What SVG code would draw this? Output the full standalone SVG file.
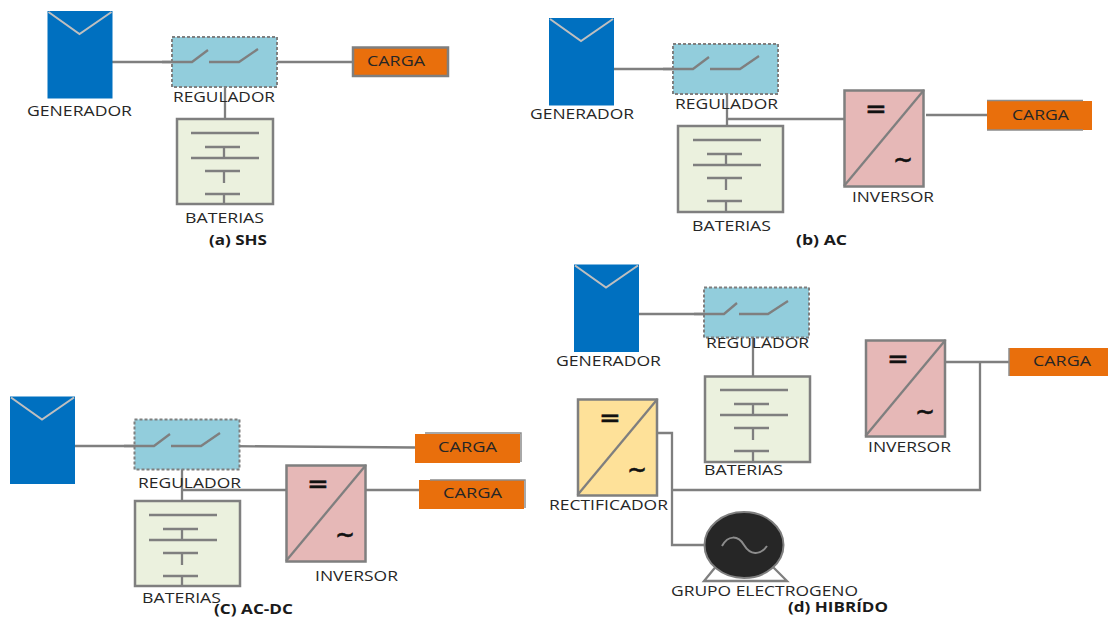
<svg xmlns="http://www.w3.org/2000/svg" width="1108" height="617" viewBox="0 0 1108 617">
<style>
text{font-family:"Open Sans","Liberation Sans",sans-serif;font-size:14px;fill:#262626}
.cap{font-weight:700;font-size:13.500px;fill:#1a1a1a}
.w{fill:none;stroke:#7f7f7f;stroke-width:2.300}
.box{stroke:#7f7f7f;stroke-width:2.500}
.pv{fill:#0070c0}
.chev{fill:none;stroke:#bfbfbf;stroke-width:2}
.reg{fill:#92cddc;stroke:#7f7f7f;stroke-width:2;stroke-dasharray:3 2}
.bat{fill:#ebf1de}
.inv{fill:#e6b8b7}
.rec{fill:#fee199}
.load{fill:#e96f0c}
.loade{fill:none;stroke:#8c8c8c;stroke-width:1.500}
.sym{font-family:"DejaVu Sans",sans-serif;font-size:26px;font-weight:400;fill:#111;stroke:#111;stroke-width:.5}
</style>
<defs>
<g id="panel"><rect class="pv" width="65" height="87.500"/><path class="chev" d="M1 1L32 23L64 1"/></g>
<g id="sw"><path class="w" d="M-10 25H20L36 13M37 25H67L86 12"/></g>
<g id="bars"><path class="w" d="M14 14H82M28 28H63M47 28V39M14 39H82M28 52H63M47 52V64M28 75H63M47 75V85"/></g>
<g id="conv"><path class="w" d="M0 96L80 0"/></g>
</defs>

<g id="connectors">
<path class="w" d="M111 62H172M258 62H352M225 87V133"/>
<path class="w" d="M612 69H673M759 69H778M727 94V140M727 119H844M926 115H987"/>
<path class="w" d="M70 446H134M218 446L415 447.500M182 469V515M182 490H286M366 490H419"/>
<path class="w" d="M639 314H704M753 337V390M945 362H1009M980 362V490H673M658 433H672V545H704"/>
</g>

<g id="a-generador"><use href="#panel" x="47.500" y="11"/><text x="27" y="116" textLength="105" lengthAdjust="spacingAndGlyphs">GENERADOR</text></g>
<g id="a-regulador"><rect class="reg" x="172" y="37" width="105" height="50"/><use href="#sw" x="172" y="37"/><text x="173" y="102" textLength="102" lengthAdjust="spacingAndGlyphs">REGULADOR</text></g>
<g id="a-baterias"><rect class="bat box" x="177" y="119" width="96" height="85"/><use href="#bars" x="177" y="119"/><text x="185" y="223" textLength="79" lengthAdjust="spacingAndGlyphs">BATERIAS</text></g>
<g id="a-carga"><rect class="load box" x="353" y="47.500" width="95" height="28.500"/><text x="367" y="66" textLength="58" lengthAdjust="spacingAndGlyphs">CARGA</text></g>
<text class="cap" x="209" y="245" textLength="58" lengthAdjust="spacingAndGlyphs">(a) SHS</text>

<g id="b-generador"><use href="#panel" x="549" y="18"/><text x="530" y="119" textLength="104" lengthAdjust="spacingAndGlyphs">GENERADOR</text></g>
<g id="b-regulador"><rect class="reg" x="673" y="44" width="105" height="50"/><use href="#sw" x="673" y="44"/><text x="675" y="109" textLength="103" lengthAdjust="spacingAndGlyphs">REGULADOR</text></g>
<g id="b-baterias"><rect class="bat box" x="678" y="126" width="105" height="86"/><use href="#bars" x="679" y="126"/><text x="692" y="231" textLength="79" lengthAdjust="spacingAndGlyphs">BATERIAS</text></g>
<g id="b-inversor"><rect class="inv box" x="844.500" y="90.500" width="79" height="96"/><use href="#conv" x="844" y="90"/><text class="sym" x="865" y="118">=</text><text class="sym" x="893" y="168" textLength="20" lengthAdjust="spacingAndGlyphs">~</text><text x="852" y="202" textLength="82" lengthAdjust="spacingAndGlyphs">INVERSOR</text></g>
<g id="b-carga"><rect class="load" x="987" y="101" width="105" height="29"/><path class="loade" d="M987 100.500H1083M987 130H1083"/><text x="1012" y="120" textLength="57" lengthAdjust="spacingAndGlyphs">CARGA</text></g>
<text class="cap" x="796" y="245" textLength="51" lengthAdjust="spacingAndGlyphs">(b) AC</text>

<g id="c-generador"><use href="#panel" x="10" y="396.500"/></g>
<g id="c-regulador"><rect class="reg" x="134.500" y="419.500" width="105" height="50"/><use href="#sw" x="134" y="421"/><text x="138" y="488" textLength="103" lengthAdjust="spacingAndGlyphs">REGULADOR</text></g>
<g id="c-baterias"><rect class="bat box" x="135" y="501" width="105" height="85"/><use href="#bars" x="135" y="501"/><text x="142" y="603" textLength="79" lengthAdjust="spacingAndGlyphs">BATERIAS</text></g>
<g id="c-inversor"><rect class="inv box" x="286.500" y="465.500" width="79" height="96"/><use href="#conv" x="286" y="465"/><text class="sym" x="307" y="493">=</text><text class="sym" x="335" y="543" textLength="20" lengthAdjust="spacingAndGlyphs">~</text><text x="315" y="581" textLength="83" lengthAdjust="spacingAndGlyphs">INVERSOR</text></g>
<g id="c-carga1"><rect class="load" x="415" y="434" width="105" height="29"/><path class="loade" d="M425 433H521V462"/><text x="438" y="452" textLength="59" lengthAdjust="spacingAndGlyphs">CARGA</text></g>
<g id="c-carga2"><rect class="load" x="419" y="480" width="105" height="29"/><path class="loade" d="M430 480H525V508"/><text x="443" y="498" textLength="59" lengthAdjust="spacingAndGlyphs">CARGA</text></g>
<text class="cap" x="214" y="613.500" textLength="79" lengthAdjust="spacingAndGlyphs">(C) AC-DC</text>

<g id="d-generador"><use href="#panel" x="574" y="264.500"/><text x="556" y="366" textLength="105" lengthAdjust="spacingAndGlyphs">GENERADOR</text></g>
<g id="d-regulador"><rect class="reg" x="704" y="287.500" width="105" height="50"/><path class="w" d="M694 314H724L737 303M739 314H768L788 301"/><text x="706" y="348" textLength="103" lengthAdjust="spacingAndGlyphs">REGULADOR</text></g>
<g id="d-baterias"><rect class="bat box" x="705" y="376.500" width="105" height="85.500"/><use href="#bars" x="706" y="376"/><text x="704" y="475" textLength="79" lengthAdjust="spacingAndGlyphs">BATERIAS</text></g>
<g id="d-inversor"><rect class="inv box" x="866" y="340.500" width="79" height="96"/><use href="#conv" x="865.500" y="340"/><text class="sym" x="887" y="368">=</text><text class="sym" x="915" y="420" textLength="20" lengthAdjust="spacingAndGlyphs">~</text><text x="868" y="452" textLength="83" lengthAdjust="spacingAndGlyphs">INVERSOR</text></g>
<g id="d-rectificador"><rect class="rec box" x="578" y="399.500" width="79" height="96"/><use href="#conv" x="577.500" y="399"/><text class="sym" x="599" y="427">=</text><text class="sym" x="627" y="478" textLength="20" lengthAdjust="spacingAndGlyphs">~</text><text x="549" y="510" textLength="119" lengthAdjust="spacingAndGlyphs">RECTIFICADOR</text></g>
<g id="d-carga"><rect class="load" x="1009" y="348" width="99" height="28"/><path class="loade" d="M1009 348V376"/><text x="1033" y="366" textLength="58" lengthAdjust="spacingAndGlyphs">CARGA</text></g>
<g id="d-grupo"><path class="w" d="M718 564L704 581H787L770 564"/><ellipse cx="744" cy="545" rx="39.500" ry="33" fill="#262626" stroke="#7f7f7f" stroke-width="2"/><path d="M722 546C728 535 738 535 744 545S760 556 767 546" fill="none" stroke="#8c8c8c" stroke-width="2"/><text x="671" y="596" textLength="187" lengthAdjust="spacingAndGlyphs">GRUPO ELECTROGENO</text></g>
<text class="cap" x="788" y="612" textLength="100" lengthAdjust="spacingAndGlyphs">(d) HIBRÍDO</text>
</svg>
